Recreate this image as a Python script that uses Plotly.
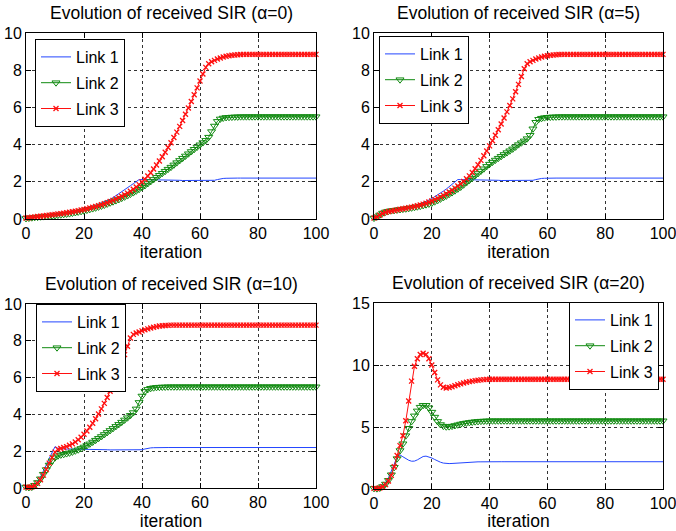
import plotly.graph_objects as go

iterations = list(range(0, 101))

# ---- alpha = 0 ----
link1_a0 = [0.10, 0.11, 0.12, 0.13, 0.14, 0.15, 0.17, 0.19, 0.21, 0.23,
            0.25, 0.27, 0.29, 0.32, 0.34, 0.37, 0.40, 0.43, 0.47, 0.51,
            0.55, 0.59, 0.64, 0.69, 0.74, 0.80, 0.86, 0.92, 0.99, 1.06,
            1.15, 1.25, 1.36, 1.47, 1.58, 1.68, 1.79, 1.90, 2.01, 2.12,
            2.12, 2.12, 2.12, 2.11, 2.11, 2.11, 2.10, 2.10, 2.10, 2.09,
            2.09, 2.08, 2.08, 2.08, 2.07, 2.07, 2.07, 2.06, 2.06, 2.06,
            2.06, 2.06, 2.06, 2.06, 2.07, 2.08, 2.12, 2.16, 2.18, 2.19,
            2.20, 2.20, 2.20, 2.20, 2.20, 2.20, 2.20, 2.20, 2.20, 2.20,
            2.20, 2.20, 2.20, 2.20, 2.20, 2.20, 2.20, 2.20, 2.20, 2.20,
            2.20, 2.20, 2.20, 2.20, 2.20, 2.20, 2.20, 2.20, 2.20, 2.20,
            2.20]
link2_a0 = [0.03, 0.05, 0.07, 0.09, 0.10, 0.12, 0.13, 0.15, 0.16, 0.17,
            0.19, 0.21, 0.23, 0.25, 0.27, 0.29, 0.32, 0.35, 0.38, 0.41,
            0.44, 0.48, 0.52, 0.56, 0.60, 0.65, 0.70, 0.75, 0.81, 0.87,
            0.93, 0.99, 1.05, 1.12, 1.19, 1.26, 1.34, 1.42, 1.51, 1.60,
            1.70, 1.80, 1.91, 2.02, 2.13, 2.24, 2.35, 2.46, 2.57, 2.68,
            2.79, 2.91, 3.03, 3.15, 3.27, 3.39, 3.51, 3.63, 3.75, 3.87,
            3.99, 4.11, 4.23, 4.40, 4.70, 5.00, 5.25, 5.38, 5.43, 5.46,
            5.47, 5.48, 5.49, 5.49, 5.50, 5.50, 5.50, 5.50, 5.50, 5.50,
            5.50, 5.50, 5.50, 5.50, 5.50, 5.50, 5.50, 5.50, 5.50, 5.50,
            5.50, 5.50, 5.50, 5.50, 5.50, 5.50, 5.50, 5.50, 5.50, 5.50,
            5.50]
link3_a0 = [0.05, 0.07, 0.09, 0.11, 0.13, 0.15, 0.17, 0.19, 0.21, 0.23,
            0.25, 0.27, 0.29, 0.31, 0.34, 0.36, 0.39, 0.42, 0.45, 0.48,
            0.51, 0.55, 0.59, 0.63, 0.67, 0.72, 0.77, 0.82, 0.88, 0.94,
            1.00, 1.07, 1.14, 1.22, 1.30, 1.39, 1.49, 1.60, 1.72, 1.85,
            1.99, 2.14, 2.31, 2.49, 2.69, 2.90, 3.12, 3.35, 3.59, 3.84,
            4.10, 4.38, 4.67, 4.98, 5.30, 5.63, 5.97, 6.32, 6.68, 7.05,
            7.42, 7.80, 8.15, 8.35, 8.45, 8.53, 8.60, 8.66, 8.71, 8.75,
            8.78, 8.80, 8.82, 8.83, 8.84, 8.85, 8.85, 8.85, 8.85, 8.85,
            8.85, 8.85, 8.85, 8.85, 8.85, 8.85, 8.85, 8.85, 8.85, 8.85,
            8.85, 8.85, 8.85, 8.85, 8.85, 8.85, 8.85, 8.85, 8.85, 8.85,
            8.85]

# ---- alpha = 5 ----
link1_a5 = [0.10, 0.15, 0.22, 0.30, 0.36, 0.40, 0.43, 0.46, 0.49, 0.52,
            0.55, 0.58, 0.62, 0.66, 0.70, 0.75, 0.81, 0.87, 0.94, 1.02,
            1.10, 1.19, 1.29, 1.39, 1.50, 1.61, 1.73, 1.85, 1.98, 2.12,
            2.12, 2.12, 2.12, 2.11, 2.11, 2.11, 2.10, 2.10, 2.10, 2.09,
            2.09, 2.08, 2.08, 2.08, 2.07, 2.07, 2.07, 2.06, 2.06, 2.06,
            2.06, 2.06, 2.06, 2.06, 2.07, 2.08, 2.12, 2.16, 2.18, 2.19,
            2.20, 2.20, 2.20, 2.20, 2.20, 2.20, 2.20, 2.20, 2.20, 2.20,
            2.20, 2.20, 2.20, 2.20, 2.20, 2.20, 2.20, 2.20, 2.20, 2.20,
            2.20, 2.20, 2.20, 2.20, 2.20, 2.20, 2.20, 2.20, 2.20, 2.20,
            2.20, 2.20, 2.20, 2.20, 2.20, 2.20, 2.20, 2.20, 2.20, 2.20,
            2.20]
link2_a5 = [0.05, 0.12, 0.22, 0.32, 0.38, 0.42, 0.45, 0.47, 0.49, 0.51,
            0.53, 0.55, 0.57, 0.60, 0.63, 0.66, 0.69, 0.73, 0.77, 0.81,
            0.86, 0.93, 1.00, 1.08, 1.16, 1.24, 1.33, 1.42, 1.52, 1.62,
            1.72, 1.84, 1.96, 2.08, 2.20, 2.33, 2.45, 2.58, 2.70, 2.83,
            2.95, 3.06, 3.17, 3.27, 3.37, 3.47, 3.57, 3.67, 3.77, 3.88,
            4.00, 4.10, 4.20, 4.32, 4.50, 4.85, 5.20, 5.36, 5.42, 5.45,
            5.47, 5.48, 5.49, 5.49, 5.50, 5.50, 5.50, 5.50, 5.50, 5.50,
            5.50, 5.50, 5.50, 5.50, 5.50, 5.50, 5.50, 5.50, 5.50, 5.50,
            5.50, 5.50, 5.50, 5.50, 5.50, 5.50, 5.50, 5.50, 5.50, 5.50,
            5.50, 5.50, 5.50, 5.50, 5.50, 5.50, 5.50, 5.50, 5.50, 5.50,
            5.50]
link3_a5 = [0.05, 0.10, 0.20, 0.30, 0.36, 0.40, 0.43, 0.46, 0.49, 0.52,
            0.55, 0.58, 0.61, 0.64, 0.67, 0.71, 0.75, 0.80, 0.85, 0.91,
            0.97, 1.04, 1.11, 1.19, 1.27, 1.36, 1.45, 1.55, 1.66, 1.77,
            1.89, 2.02, 2.16, 2.32, 2.50, 2.70, 2.92, 3.15, 3.40, 3.66,
            3.93, 4.21, 4.50, 4.80, 5.11, 5.43, 5.76, 6.10, 6.46, 6.84,
            7.24, 7.66, 8.08, 8.35, 8.45, 8.53, 8.60, 8.66, 8.71, 8.75,
            8.78, 8.80, 8.82, 8.83, 8.84, 8.85, 8.85, 8.85, 8.85, 8.85,
            8.85, 8.85, 8.85, 8.85, 8.85, 8.85, 8.85, 8.85, 8.85, 8.85,
            8.85, 8.85, 8.85, 8.85, 8.85, 8.85, 8.85, 8.85, 8.85, 8.85,
            8.85, 8.85, 8.85, 8.85, 8.85, 8.85, 8.85, 8.85, 8.85, 8.85,
            8.85]

# ---- alpha = 10 ----
link1_a10 = [0.10, 0.10, 0.12, 0.20, 0.35, 0.60, 0.90, 1.25, 1.60, 1.95,
             2.25, 2.16, 2.13, 2.12, 2.12, 2.12, 2.12, 2.11, 2.11, 2.11,
             2.10, 2.10, 2.10, 2.09, 2.09, 2.09, 2.08, 2.08, 2.08, 2.07,
             2.07, 2.07, 2.06, 2.06, 2.06, 2.06, 2.06, 2.06, 2.06, 2.07,
             2.08, 2.12, 2.16, 2.18, 2.19, 2.20, 2.20, 2.20, 2.20, 2.20,
             2.20, 2.20, 2.20, 2.20, 2.20, 2.20, 2.20, 2.20, 2.20, 2.20,
             2.20, 2.20, 2.20, 2.20, 2.20, 2.20, 2.20, 2.20, 2.20, 2.20,
             2.20, 2.20, 2.20, 2.20, 2.20, 2.20, 2.20, 2.20, 2.20, 2.20,
             2.20, 2.20, 2.20, 2.20, 2.20, 2.20, 2.20, 2.20, 2.20, 2.20,
             2.20, 2.20, 2.20, 2.20, 2.20, 2.20, 2.20, 2.20, 2.20, 2.20,
             2.20]
link2_a10 = [0.05, 0.03, 0.05, 0.15, 0.30, 0.50, 0.75, 1.00, 1.25, 1.48,
             1.65, 1.75, 1.80, 1.83, 1.87, 1.91, 1.96, 2.02, 2.08, 2.15,
             2.23, 2.31, 2.40, 2.50, 2.60, 2.70, 2.80, 2.91, 3.02, 3.13,
             3.24, 3.35, 3.46, 3.58, 3.70, 3.82, 3.95, 4.10, 4.30, 4.65,
             5.00, 5.25, 5.36, 5.42, 5.45, 5.47, 5.48, 5.49, 5.49, 5.50,
             5.50, 5.50, 5.50, 5.50, 5.50, 5.50, 5.50, 5.50, 5.50, 5.50,
             5.50, 5.50, 5.50, 5.50, 5.50, 5.50, 5.50, 5.50, 5.50, 5.50,
             5.50, 5.50, 5.50, 5.50, 5.50, 5.50, 5.50, 5.50, 5.50, 5.50,
             5.50, 5.50, 5.50, 5.50, 5.50, 5.50, 5.50, 5.50, 5.50, 5.50,
             5.50, 5.50, 5.50, 5.50, 5.50, 5.50, 5.50, 5.50, 5.50, 5.50,
             5.50]
link3_a10 = [0.05, 0.03, 0.05, 0.12, 0.25, 0.45, 0.70, 1.00, 1.35, 1.65,
             1.95, 2.10, 2.15, 2.20, 2.25, 2.32, 2.40, 2.50, 2.62, 2.76,
             2.92, 3.10, 3.30, 3.52, 3.76, 4.02, 4.30, 4.60, 4.92, 5.26,
             5.62, 6.00, 6.40, 6.82, 7.25, 7.70, 8.15, 8.35, 8.42, 8.48,
             8.54, 8.60, 8.65, 8.70, 8.74, 8.77, 8.80, 8.82, 8.83, 8.84,
             8.85, 8.85, 8.85, 8.85, 8.85, 8.85, 8.85, 8.85, 8.85, 8.85,
             8.85, 8.85, 8.85, 8.85, 8.85, 8.85, 8.85, 8.85, 8.85, 8.85,
             8.85, 8.85, 8.85, 8.85, 8.85, 8.85, 8.85, 8.85, 8.85, 8.85,
             8.85, 8.85, 8.85, 8.85, 8.85, 8.85, 8.85, 8.85, 8.85, 8.85,
             8.85, 8.85, 8.85, 8.85, 8.85, 8.85, 8.85, 8.85, 8.85, 8.85,
             8.85]

# ---- alpha = 20 ----
link1_a20 = [0.10, 0.10, 0.15, 0.25, 0.50, 0.90, 1.40, 2.00, 2.60, 2.75,
             2.60, 2.45, 2.32, 2.24, 2.25, 2.35, 2.50, 2.62, 2.65, 2.60,
             2.50, 2.38, 2.26, 2.16, 2.09, 2.06, 2.05, 2.06, 2.08, 2.10,
             2.12, 2.14, 2.15, 2.16, 2.17, 2.18, 2.19, 2.19, 2.20, 2.20,
             2.20, 2.20, 2.20, 2.20, 2.20, 2.20, 2.20, 2.20, 2.20, 2.20,
             2.20, 2.20, 2.20, 2.20, 2.20, 2.20, 2.20, 2.20, 2.20, 2.20,
             2.20, 2.20, 2.20, 2.20, 2.20, 2.20, 2.20, 2.20, 2.20, 2.20,
             2.20, 2.20, 2.20, 2.20, 2.20, 2.20, 2.20, 2.20, 2.20, 2.20,
             2.20, 2.20, 2.20, 2.20, 2.20, 2.20, 2.20, 2.20, 2.20, 2.20,
             2.20, 2.20, 2.20, 2.20, 2.20, 2.20, 2.20, 2.20, 2.20, 2.20,
             2.20]
link2_a20 = [0.05, 0.03, 0.08, 0.20, 0.40, 0.70, 1.15, 1.75, 2.45, 3.10,
             3.65, 4.30, 4.90, 5.45, 5.90, 6.30, 6.60, 6.75, 6.75, 6.55,
             6.20, 5.80, 5.45, 5.20, 5.07, 5.02, 5.03, 5.07, 5.12, 5.18,
             5.24, 5.29, 5.33, 5.37, 5.40, 5.43, 5.45, 5.47, 5.48, 5.49,
             5.50, 5.50, 5.50, 5.50, 5.50, 5.50, 5.50, 5.50, 5.50, 5.50,
             5.50, 5.50, 5.50, 5.50, 5.50, 5.50, 5.50, 5.50, 5.50, 5.50,
             5.50, 5.50, 5.50, 5.50, 5.50, 5.50, 5.50, 5.50, 5.50, 5.50,
             5.50, 5.50, 5.50, 5.50, 5.50, 5.50, 5.50, 5.50, 5.50, 5.50,
             5.50, 5.50, 5.50, 5.50, 5.50, 5.50, 5.50, 5.50, 5.50, 5.50,
             5.50, 5.50, 5.50, 5.50, 5.50, 5.50, 5.50, 5.50, 5.50, 5.50,
             5.50]
link3_a20 = [0.05, 0.03, 0.08, 0.18, 0.35, 0.65, 1.10, 1.80, 2.70, 3.50,
             4.30, 5.50, 7.10, 8.70, 9.90, 10.50, 10.85, 10.95, 10.85, 10.50,
             10.00, 9.40, 8.80, 8.40, 8.20, 8.15, 8.18, 8.25, 8.33, 8.41,
             8.48, 8.55, 8.61, 8.66, 8.70, 8.74, 8.77, 8.80, 8.82, 8.84,
             8.85, 8.85, 8.85, 8.85, 8.85, 8.85, 8.85, 8.85, 8.85, 8.85,
             8.85, 8.85, 8.85, 8.85, 8.85, 8.85, 8.85, 8.85, 8.85, 8.85,
             8.85, 8.85, 8.85, 8.85, 8.85, 8.85, 8.85, 8.85, 8.85, 8.85,
             8.85, 8.85, 8.85, 8.85, 8.85, 8.85, 8.85, 8.85, 8.85, 8.85,
             8.85, 8.85, 8.85, 8.85, 8.85, 8.85, 8.85, 8.85, 8.85, 8.85,
             8.85, 8.85, 8.85, 8.85, 8.85, 8.85, 8.85, 8.85, 8.85, 8.85,
             8.85]

alphas = [0, 5, 10, 20]
panel_data = [
    (link1_a0, link2_a0, link3_a0),
    (link1_a5, link2_a5, link3_a5),
    (link1_a10, link2_a10, link3_a10),
    (link1_a20, link2_a20, link3_a20),
]
series_names = ["Link 1", "Link 2", "Link 3"]
y_ranges = [[0, 10], [0, 10], [0, 10], [0, 15]]
y_ticks = [[0, 2, 4, 6, 8, 10], [0, 2, 4, 6, 8, 10], [0, 2, 4, 6, 8, 10], [0, 5, 10, 15]]
x_ticks = [0, 20, 40, 60, 80, 100]

W, H = 676, 531
FONT = "Liberation Sans, Arial, Helvetica, sans-serif"

# panel pixel boxes (left, right, top, bottom)
boxes = [(26, 316, 33, 219), (374, 663, 33, 219), (26, 316, 304, 488), (374, 663, 303, 489)]
legend_pos = [(35, 39), (379, 36), (36, 304), (659, 302)]
legend_anchor = ["left", "left", "left", "right"]

BLUE = "#2346ff"
GREEN = "#118a11"
RED = "#ff1010"

fig = go.Figure()
layout = dict(
    width=W, height=H,
    margin=dict(l=0, r=0, t=0, b=0, autoexpand=False),
    paper_bgcolor="white", plot_bgcolor="white",
    font=dict(family=FONT, size=16, color="black"),
    showlegend=True,
    annotations=[],
)

for i, (d1, d2, d3) in enumerate(panel_data):
    n = "" if i == 0 else str(i + 1)
    xa, ya = "x" + n, "y" + n
    leg = "legend" + n
    g = "p%d" % i
    fig.add_trace(go.Scatter(
        x=iterations, y=d1, mode="lines", name=series_names[0],
        line=dict(color=BLUE, width=1), xaxis=xa, yaxis=ya,
        legend=leg, legendgroup=g + "a", cliponaxis=False))
    fig.add_trace(go.Scatter(
        x=iterations, y=d2, mode="lines+markers", name=series_names[1],
        line=dict(color=GREEN, width=1),
        marker=dict(symbol="triangle-down-open", size=7, color=GREEN, line=dict(width=1, color=GREEN)),
        xaxis=xa, yaxis=ya, legend=leg, legendgroup=g + "b", cliponaxis=False))
    fig.add_trace(go.Scatter(
        x=iterations, y=d3, mode="lines+markers", name=series_names[2],
        line=dict(color=RED, width=1),
        marker=dict(symbol="x-thin", size=5, color=RED, line=dict(width=1.3, color=RED)),
        xaxis=xa, yaxis=ya, legend=leg, legendgroup=g + "c", cliponaxis=False))

    l, r, t, b = boxes[i]
    axis_common = dict(
        showline=True, linecolor="black", linewidth=1, mirror="ticks",
        ticks="inside", ticklen=5, tickcolor="black", tickwidth=1,
        showgrid=True, gridcolor="#333333", gridwidth=1, griddash="dot",
        zeroline=False, automargin=False, ticklabeloverflow="allow",
        tickfont=dict(family=FONT, size=16, color="black"),
    )
    layout["xaxis" + n] = dict(
        axis_common, domain=[l / W, r / W], anchor=ya, range=[0, 100],
        tickmode="array", tickvals=x_ticks,
        title=dict(text="iteration", font=dict(family=FONT, size=17.5), standoff=2),
    )
    layout["yaxis" + n] = dict(
        axis_common, domain=[1 - b / H, 1 - t / H], anchor=xa, range=y_ranges[i],
        tickmode="array", tickvals=y_ticks[i],
    )
    lx, ly = legend_pos[i]
    layout[leg] = dict(
        x=lx / W, y=1 - ly / H, xanchor=legend_anchor[i], yanchor="top",
        xref="paper", yref="paper",
        bgcolor="white", bordercolor="black", borderwidth=1,
        font=dict(family=FONT, size=16, color="black"),
        tracegroupgap=2, itemwidth=30,
    )
    layout["annotations"].append(dict(
        text="Evolution of received SIR (\u03b1=%d)" % alphas[i],
        x=(l + r) / 2 / W, y=1 - (t - 20) / H, xref="paper", yref="paper",
        xanchor="center", yanchor="middle", showarrow=False,
        font=dict(family=FONT, size=17.5, color="black"),
    ))

fig.update_layout(**layout)
fig.write_html(
    "out.html",
    config={"displayModeBar": False},
    post_script="document.body.style.margin='0';document.body.style.padding='0';",
)
